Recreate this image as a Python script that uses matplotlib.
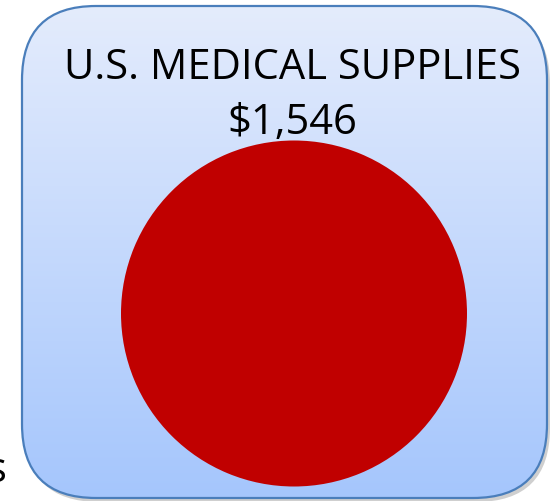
import numpy as np
import matplotlib.pyplot as plt
from matplotlib.patches import FancyBboxPatch

# data
categories = ["U.S. MEDICAL SUPPLIES"]
values = [1546]
colors = ["#c00000"]

W, H = 551, 502
fig = plt.figure(figsize=(W / 100, H / 100), dpi=100)
bg = fig.add_axes([0, 0, 1, 1])
bg.set_xlim(0, W)
bg.set_ylim(H, 0)
bg.axis("off")

# shadow + rounded box with vertical gradient
shadow = FancyBboxPatch((25, 11), 525, 492, boxstyle="round,pad=0,rounding_size=74",
                        fc="#00000030", ec="none", zorder=0)
bg.add_patch(shadow)
box = FancyBboxPatch((22, 7), 525, 492, boxstyle="round,pad=0,rounding_size=74",
                     fc="none", ec="#4a7ebb", lw=1.6, zorder=3)
bg.add_patch(box)
grad = np.linspace(0, 1, 256).reshape(-1, 1)
top = np.array([0.894, 0.925, 0.988])
bot = np.array([0.647, 0.776, 0.992])
img = top + (bot - top) * grad[..., None]
im = bg.imshow(img, extent=(22, 547, 499, 7), aspect="auto", zorder=1)
im.set_clip_path(box)

bg.text(292, 79, categories[0], ha="center", va="baseline", fontsize=30,
        family="Open Sans", color="black", zorder=4)
bg.text(292, 134, f"${values[0]:,}", ha="center", va="baseline", fontsize=30,
        family="Open Sans", color="black", zorder=4)
bg.text(7, 482, "s", ha="right", va="baseline", fontsize=30,
        family="Open Sans", color="black", zorder=4)

# the pie (single slice = full circle)
cx, cy, r = 294, 314.5, 173
pie_ax = fig.add_axes([(cx - r) / W, (H - cy - r) / H, 2 * r / W, 2 * r / H])
pie_ax.pie(values, colors=colors, startangle=90, radius=1.0,
           wedgeprops=dict(linewidth=0))
pie_ax.set_xlim(-1, 1)
pie_ax.set_ylim(-1, 1)
pie_ax.axis("off")

fig.savefig("out.png", dpi=100)
